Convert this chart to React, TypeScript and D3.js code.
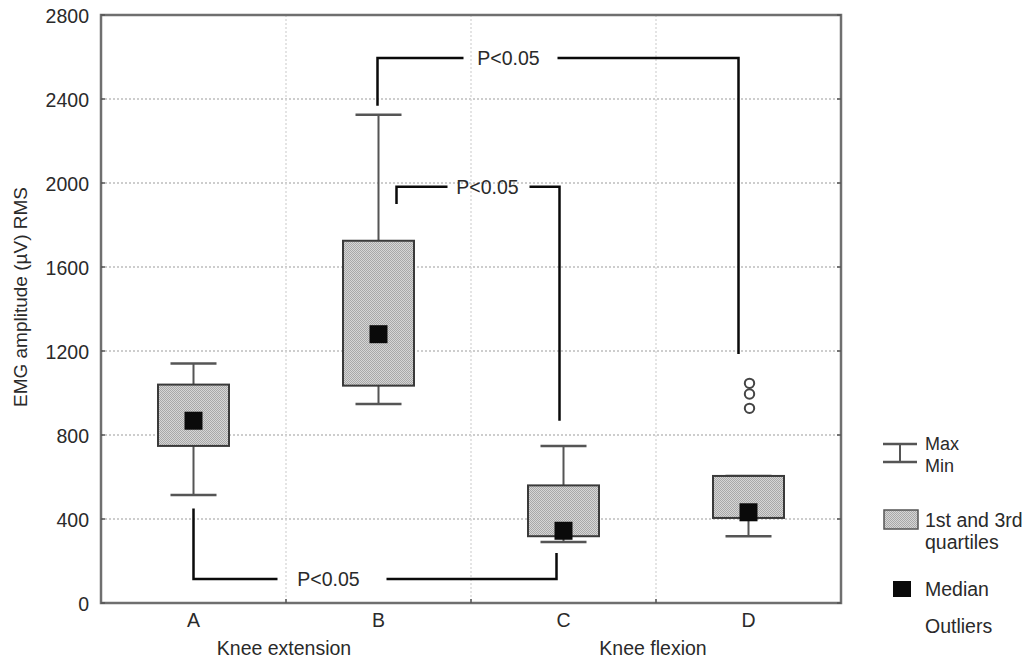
import React from 'react';
import * as d3 from 'd3';

const categories = ['A', 'B', 'C', 'D'];
const maxVals = [1140, 2325, 748, 605];
const q3Vals = [1040, 1725, 560, 605];
const medianVals = [868, 1280, 344, 432];
const q1Vals = [748, 1035, 318, 405];
const minVals = [514, 948, 290, 318];
const outliersD = [1046, 995, 927];
const yTicks = [0, 400, 800, 1200, 1600, 2000, 2400, 2800];
const groupLabels = ['Knee extension', 'Knee flexion'];

// significance brackets: level of the bar and where each leg stops
const brackets = [
  { from: 'A', to: 'C', y: 114, end1: 450, end2: 238 },
  { from: 'B', to: 'D', y: 2595, end1: 2368, end2: 1186 },
  { from: 'B', to: 'C', y: 1982, end1: 1900, end2: 868 },
];
// leg offsets and the gap left for the "P<0.05" text (px, from the left leg)
const bracketLayout = [
  { dx1: 0, dx2: -7, gapL: 84, gapR: 193, tx: 135 },
  { dx1: -1, dx2: -10, gapL: 86, gapR: 180, tx: 131 },
  { dx1: 18, dx2: -4, gapL: 51, gapR: 133, tx: 91 },
];

const W = 1026;
const H = 658;
const left = 101;
const right = 841;
const top = 15;
const bottom = 603;
const font = '"Liberation Sans", Arial, sans-serif';
const fs = 19.5;
const txt = '#2a2a2a';

const App = () => {
  const x = d3.scaleBand().domain(categories).range([left, right]).padding(0);
  const y = d3.scaleLinear().domain([0, 2800]).range([bottom, top]);
  const cx = (c) => x(c) + x.bandwidth() / 2;
  const boxW = 71;
  const capW = 46;
  const medS = 18;

  return (
    <svg width={W} height={H} style={{ position: 'absolute', left: 0, top: 0, background: 'white' }}>
      <defs>
        <pattern id="dots" width="2" height="2" patternUnits="userSpaceOnUse">
          <rect width="2" height="2" fill="#d6d6d6" />
          <rect width="1" height="1" fill="#a8a8a8" />
          <rect x="1" y="1" width="1" height="1" fill="#a8a8a8" />
        </pattern>
      </defs>

      {/* grid */}
      {yTicks.slice(1, -1).map((t) => (
        <line key={'h' + t} x1={left} x2={right} y1={y(t)} y2={y(t)} stroke="#bdbdbd" strokeWidth={1.3} strokeDasharray="2,2" />
      ))}
      {categories.slice(1).map((c) => (
        <line key={'v' + c} x1={x(c)} x2={x(c)} y1={top} y2={bottom} stroke="#d6d6d6" strokeWidth={1.3} strokeDasharray="2,2" />
      ))}

      {/* frame */}
      <rect x={left} y={top} width={right - left} height={bottom - top} fill="none" stroke="#6f6f6f" strokeWidth={2.5} />
      {yTicks.map((t) => (
        <g key={'t' + t}>
          <line x1={left} x2={left + 4} y1={y(t)} y2={y(t)} stroke="#555" strokeWidth={1.5} />
          <line x1={right - 4} x2={right} y1={y(t)} y2={y(t)} stroke="#555" strokeWidth={1.5} />
          <text x={89} y={y(t) + 8} textAnchor="end" fontSize={fs} fill={txt} fontFamily={font}>{t}</text>
        </g>
      ))}
      {categories.slice(1).map((c) => (
        <line key={'bt' + c} x1={x(c)} x2={x(c)} y1={bottom - 4} y2={bottom} stroke="#555" strokeWidth={1.5} />
      ))}

      {/* boxes */}
      {categories.map((c, i) => {
        const m = cx(c);
        return (
          <g key={c}>
            <line x1={m} x2={m} y1={y(maxVals[i])} y2={y(minVals[i])} stroke="#555" strokeWidth={2} />
            <line x1={m - capW / 2} x2={m + capW / 2} y1={y(maxVals[i])} y2={y(maxVals[i])} stroke="#555" strokeWidth={2.5} />
            <line x1={m - capW / 2} x2={m + capW / 2} y1={y(minVals[i])} y2={y(minVals[i])} stroke="#555" strokeWidth={2.5} />
            <rect x={m - boxW / 2} y={y(q3Vals[i])} width={boxW} height={y(q1Vals[i]) - y(q3Vals[i])} fill="url(#dots)" stroke="#3a3a3a" strokeWidth={2} />
            <rect x={m - medS / 2} y={y(medianVals[i]) - medS / 2} width={medS} height={medS} fill="#0a0a0a" />
            <text x={m} y={627} textAnchor="middle" fontSize={fs} fill={txt} fontFamily={font}>{c}</text>
          </g>
        );
      })}
      {outliersD.map((v, i) => (
        <circle key={'o' + i} cx={cx('D') + 1} cy={y(v)} r={4.7} fill="white" stroke="#444" strokeWidth={2} />
      ))}

      {/* significance brackets */}
      {brackets.map((b, i) => {
        const L = bracketLayout[i];
        const x1 = cx(b.from) + L.dx1;
        const x2 = cx(b.to) + L.dx2;
        const yy = y(b.y);
        const line = d3.line();
        return (
          <g key={'b' + i} fill="none" stroke="#0a0a0a" strokeWidth={2.5}>
            <path d={line([[x1, y(b.end1)], [x1, yy], [x1 + L.gapL, yy]])} />
            <path d={line([[x1 + L.gapR, yy], [x2, yy], [x2, y(b.end2)]])} />
            <text x={x1 + L.tx} y={yy + 7} textAnchor="middle" fontSize={fs} fill={txt} stroke="none" fontFamily={font}>P&lt;0.05</text>
          </g>
        );
      })}

      {/* axis titles */}
      <text transform={`translate(27,${(top + bottom) / 2 - 12}) rotate(-90)`} textAnchor="middle" fontSize={19} fill={txt} fontFamily={font}>
        EMG amplitude (µV) RMS
      </text>
      <text x={x('B') - 2} y={655} textAnchor="middle" fontSize={fs} fill={txt} fontFamily={font}>{groupLabels[0]}</text>
      <text x={x('D') - 3} y={655} textAnchor="middle" fontSize={fs} fill={txt} fontFamily={font}>{groupLabels[1]}</text>

      {/* legend */}
      <g fontFamily={font} fontSize={fs} fill={txt}>
        <line x1={883} x2={917} y1={444} y2={444} stroke="#555" strokeWidth={2.5} />
        <line x1={883} x2={917} y1={462} y2={462} stroke="#555" strokeWidth={2.5} />
        <line x1={900} x2={900} y1={444} y2={462} stroke="#555" strokeWidth={2} />
        <text x={925} y={450} fontSize={18}>Max</text>
        <text x={925} y={472} fontSize={18}>Min</text>
        <rect x={884} y={510} width={34} height={19} fill="url(#dots)" stroke="#555" strokeWidth={1.5} />
        <text x={925} y={527}>1st and 3rd</text>
        <text x={925} y={549}>quartiles</text>
        <rect x={893} y={581} width={18} height={16} fill="#0a0a0a" />
        <text x={925} y={596}>Median</text>
        <text x={925} y={633}>Outliers</text>
      </g>
    </svg>
  );
};

export default App;
